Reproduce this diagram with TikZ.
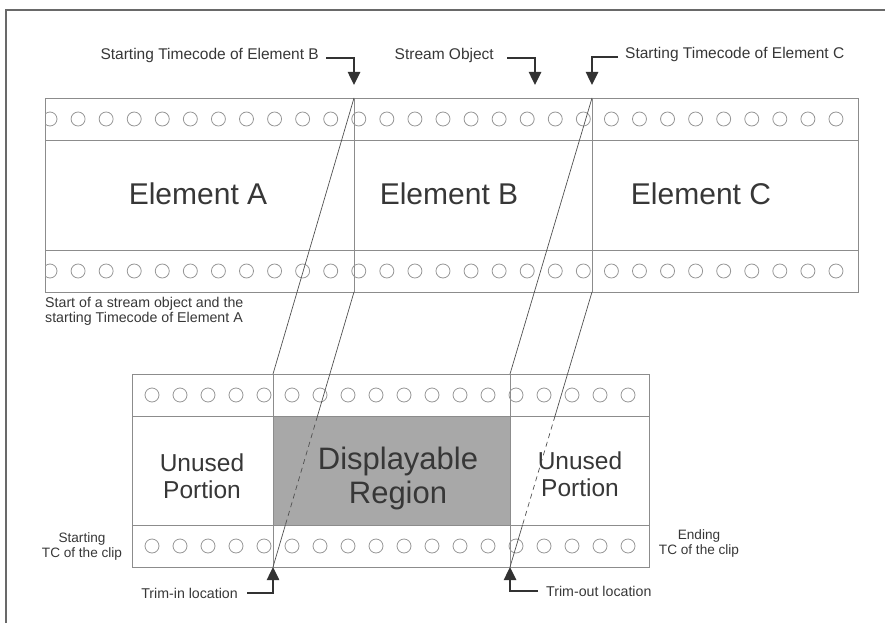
\documentclass[tikz,border=0pt]{standalone}
\usepackage{fontspec}
\setmainfont{Liberation Sans}
\usepackage{tikz}
\usetikzlibrary{arrows.meta, calc}
\definecolor{cFrame}{RGB}{105,105,105}
\definecolor{cStrip}{RGB}{140,140,140}
\definecolor{cHole}{RGB}{150,150,150}
\definecolor{cLink}{RGB}{80,80,80}
\definecolor{cArrow}{RGB}{50,50,50}
\definecolor{cText}{RGB}{55,55,55}
\definecolor{cShade}{RGB}{168,168,168}
\tikzset{
	strip/.style   ={draw=cStrip, line width=0.8pt},
	hole/.style    ={draw=cHole, line width=0.8pt},
	link/.style    ={draw=cLink, line width=0.7pt},
	linkdash/.style={link, dash pattern=on 5pt off 4pt},
	callout/.style ={draw=cArrow, line width=2.5pt, -{Triangle[length=13pt, width=12pt]}},
	% text styles
	toplbl/.style  ={text=cText, inner sep=0pt, font=\fontsize{15.5}{17}\selectfont},
	biglbl/.style  ={text=cText, inner sep=0pt, font=\fontsize{30}{33}\selectfont},
	midlbl/.style  ={text=cText, inner sep=0pt, align=center, font=\fontsize{24.5}{27}\selectfont},
	smlbl/.style   ={text=cText, inner sep=0pt, font=\fontsize{14.2}{15}\selectfont},
	tclbl/.style   ={text=cText, inner sep=0pt, align=center, font=\fontsize{13.6}{15}\selectfont},
}
\begin{document}
\begin{tikzpicture}[x=1pt, y=-1pt]
	\useasboundingbox (0,0) rectangle (885,623);
	% scan frame
	\draw[cFrame, line width=1.3pt] (6,623) -- (6,10) -- (885,10);
	% stream object
	\draw[strip] (45,98) rectangle (858,292);
	\draw[strip] (45,140) -- (858,140) (45,250) -- (858,250);
	\draw[strip] (354,98) -- (354,292) (592,98) -- (592,292);
	\begin{scope}
		\clip (45,98) rectangle (858,292);
		\foreach \i in {0,...,28} {
			\draw[hole] ({50+28.07*\i},119) circle[radius=7pt];
			\draw[hole] ({50+28.07*\i},271) circle[radius=7pt];
		}
	\end{scope}
	\node[biglbl, anchor=base] (elemA) at (198,204) {Element A};
	\node[biglbl, anchor=base] (elemB) at (449,204) {Element B};
	\node[biglbl, anchor=base] (elemC) at (701,204) {Element C};
	% clip
	\fill[cShade] (273,416) rectangle (510,525);
	\draw[strip] (132,374) rectangle (649,567);
	\draw[strip] (132,416) -- (649,416) (132,525) -- (649,525);
	\draw[strip] (273,374) -- (273,567) (510,374) -- (510,567);
	\foreach \i in {0,...,17} {
		\draw[hole] ({152+28*\i},395) circle[radius=7pt];
		\draw[hole] ({152+28*\i},546) circle[radius=7pt];
	}
	\node[midlbl, anchor=base] (unusedL) at (202,498) {Unused\\Portion};
	\node[midlbl, anchor=base, font=\fontsize{31}{34}\selectfont] (shown) at (398,503) {Displayable\\Region};
	\node[midlbl, anchor=base] (unusedR) at (580,496) {Unused\\Portion};
	% corners
	\coordinate (bTop) at (354,98);
	\coordinate (bBot) at (354,292);
	\coordinate (cTop) at (592,98);
	\coordinate (cBot) at (592,292);
	\coordinate (inTop) at (273,374);
	\coordinate (inBot) at (273,567);
	\coordinate (outTop) at (510,374);
	\coordinate (outBot) at (510,567);
	\coordinate (tipB) at (354,85);
	\coordinate (tipS) at (535,85);
	\coordinate (tipC) at (592,85);
	% mapping lines
	\draw[link] (bTop) -- (inTop);
	\draw[link] (cTop) -- (outTop);
	\draw[link] (bBot) -- ($(bBot)!0.451!(inBot)$);
	\draw[linkdash] ($(bBot)!0.451!(inBot)$) -- ($(bBot)!0.847!(inBot)$);
	\draw[link] ($(bBot)!0.847!(inBot)$) -- (inBot);
	\draw[link] (cBot) -- ($(cBot)!0.451!(outBot)$);
	\draw[linkdash] ($(cBot)!0.451!(outBot)$) -- ($(cBot)!0.847!(outBot)$);
	\draw[link] ($(cBot)!0.847!(outBot)$) -- (outBot);
	% labels
	\node[toplbl, anchor=base east] (lblB) at (319,60) {Starting Timecode of Element B};
	\node[toplbl, anchor=base east] (lblS) at (494,60) {Stream Object};
	\node[toplbl, anchor=base west] (lblC) at (625,59) {Starting Timecode of Element C};
	\node[smlbl, align=left, anchor=base west] (lblA) at (45,322) {Start of a stream object and the\\starting Timecode of Element A};
	\node[tclbl, anchor=base] (lblStart) at (82,557) {Starting\\TC of the clip};
	\node[tclbl, anchor=base] (lblEnd) at (699,554) {Ending\\TC of the clip};
	\node[smlbl, anchor=base east] (lblIn) at (238,598) {Trim-in location};
	\node[smlbl, anchor=base west] (lblOut) at (546,596) {Trim-out location};
	\draw[callout] ([xshift=7pt, yshift=2pt]lblB.base east) -| (tipB);
	\draw[callout] ([xshift=13pt, yshift=2pt]lblS.base east) -| (tipS);
	\draw[callout] ([xshift=-7pt, yshift=2pt]lblC.base west) -| (tipC);
	\draw[callout] ([xshift=9pt, yshift=5pt]lblIn.base east) -| (inBot);
	\draw[callout] ([xshift=-8pt, yshift=5pt]lblOut.base west) -| (outBot);
\end{tikzpicture}
\end{document}
